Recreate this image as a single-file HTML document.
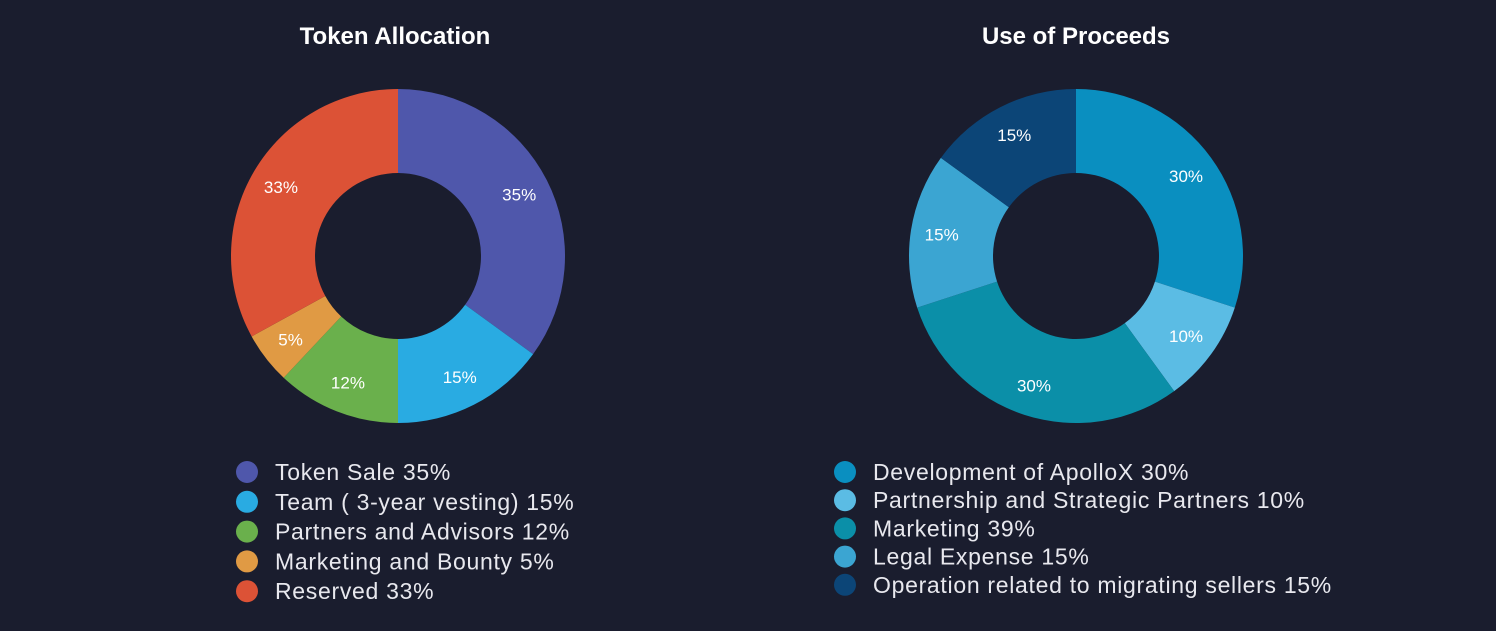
<!DOCTYPE html>
<html><head><meta charset="utf-8"><style>
body{margin:0;background:#1a1d2e;width:1496px;height:626px;overflow:hidden;font-family:"Liberation Sans",sans-serif}
</style></head><body>
<svg width="1496" height="626">
<rect width="1496" height="626" fill="#1a1d2e"/>
<text x="395" y="44" text-anchor="middle" fill="#fff" font-size="24" font-weight="bold">Token Allocation</text>
<text x="1076" y="44" text-anchor="middle" fill="#fff" font-size="24" font-weight="bold">Use of Proceeds</text>
<g id="g1"></g><g id="g2"></g>
</svg>
<script>
const leftLabels=["Token Sale 35%","Team ( 3-year vesting) 15%","Partners and Advisors 12%","Marketing and Bounty 5%","Reserved 33%"];
const leftValues=[35,15,12,5,33];
const leftColors=["#4f57ab","#29abe2","#6ab04c","#e09a44","#dc5236"];
const rightLabels=["Development of ApolloX 30%","Partnership and Strategic Partners 10%","Marketing 39%","Legal Expense 15%","Operation related to migrating sellers 15%"];
const rightValues=[30,10,30,15,15];
const rightColors=["#0a8fc0","#5bbce4","#0b8fa8","#3ba5d2","#0c4577"];
const NS="http://www.w3.org/2000/svg";
function mk(t,a,p){const e=document.createElementNS(NS,t);for(const k in a)e.setAttribute(k,a[k]);p.appendChild(e);return e;}
function donut(g,cx,cy,vals,cols,labels,lx,ly,lstep){
  const R=167,r=83,tot=vals.reduce((a,b)=>a+b,0);let a0=0;
  vals.forEach((v,i)=>{
    const a1=a0+v/tot*2*Math.PI;
    const P=(rad,a)=>[cx+rad*Math.sin(a),cy-rad*Math.cos(a)];
    const [x1,y1]=P(R,a0),[x2,y2]=P(R,a1),[x3,y3]=P(r,a1),[x4,y4]=P(r,a0);
    const lg=(a1-a0)>Math.PI?1:0;
    const p=mk('path',{d:`M${x1},${y1}A${R},${R} 0 ${lg} 1 ${x2},${y2}L${x3},${y3}A${r},${r} 0 ${lg} 0 ${x4},${y4}Z`,fill:cols[i]},g);
    
    
    const [tx,ty]=P(136,(a0+a1)/2);
    const t=mk('text',{x:tx,y:ty+6,'text-anchor':'middle',fill:'#fff','font-size':17},g);t.textContent=v+'%';
    
    
    const c=mk('circle',{cx:lx,cy:ly+i*lstep,r:11,fill:cols[i]},g);
    
    
    const lt=mk('text',{x:lx+28,y:ly+i*lstep+8,fill:'#e8e8ee','font-size':23,'letter-spacing':0.7},g);lt.textContent=labels[i];
    
    
    a0=a1;
  });
}
donut(document.getElementById('g1'),398,256,leftValues,leftColors,leftLabels,247,472,29.8);
donut(document.getElementById('g2'),1076,256,rightValues,rightColors,rightLabels,845,472,28.2);
</script>
</body></html>
